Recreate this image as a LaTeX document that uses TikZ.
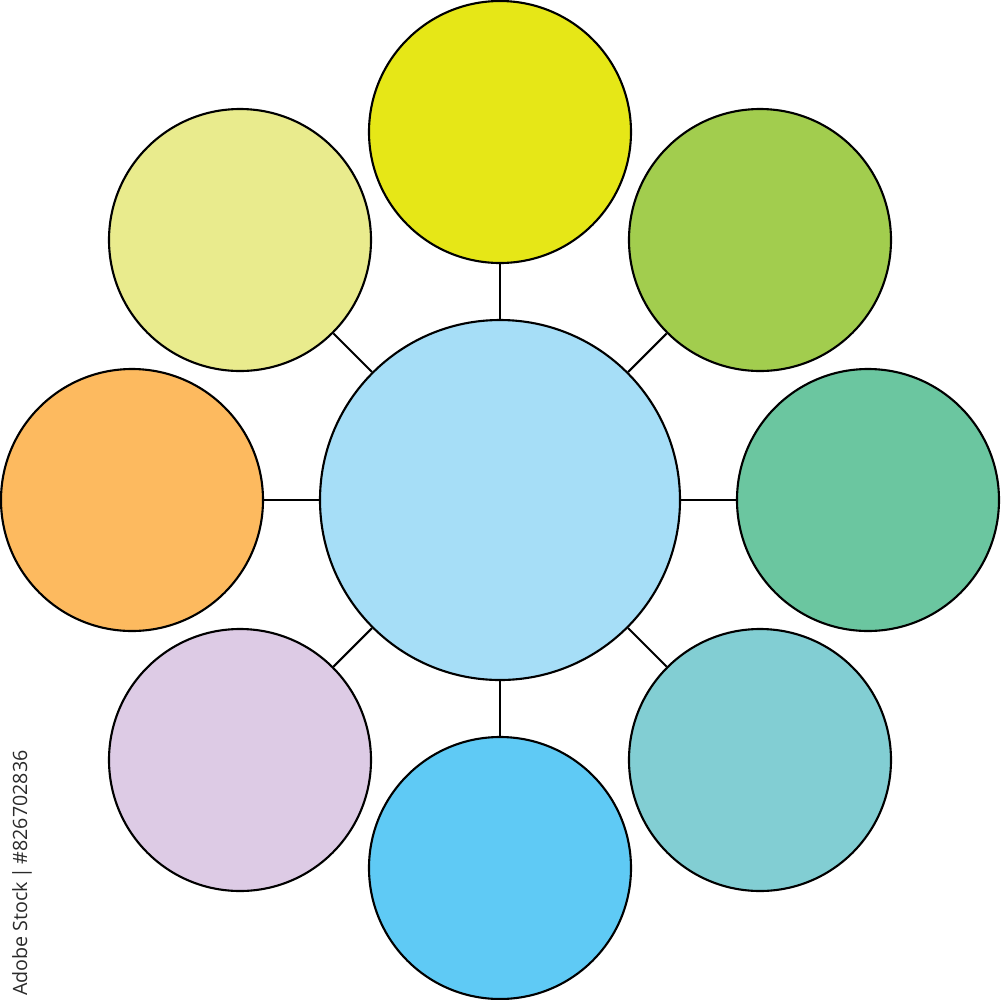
\documentclass[tikz,border=0pt]{standalone}
\usepackage{fontspec}
\newfontfamily\wmfont{Open Sans}
\definecolor{cCenter}{HTML}{A6DEF7}
\definecolor{cTop}{HTML}{E6E717}
\definecolor{cTR}{HTML}{A2CD4E}
\definecolor{cR}{HTML}{6BC6A0}
\definecolor{cBR}{HTML}{82CED3}
\definecolor{cB}{HTML}{5FCAF5}
\definecolor{cBL}{HTML}{DDCBE5}
\definecolor{cL}{HTML}{FDBA5F}
\definecolor{cTL}{HTML}{E9EB8D}
\definecolor{wmgray}{HTML}{2A2A2A}
\tikzset{
  bubble/.style={circle, draw=black, line width=0.6pt, minimum size=26.2mm, inner sep=0pt},
  hub/.style={circle, draw=black, line width=0.6pt, minimum size=36mm, inner sep=0pt, fill=cCenter},
  link/.style={draw=black, line width=0.6pt},
  wm/.style={font=\wmfont\fontsize{5.6pt}{6.5pt}\selectfont, text=wmgray, rotate=90, inner sep=0pt}
}
\begin{document}
\begin{tikzpicture}[x=0.1mm,y=-0.1mm]
\useasboundingbox (0,0) rectangle (1000,1000);
\node[hub] (c) at (500,500) {};
\node[bubble, fill=cTop] (t) at (500,132) {};
\node[bubble, fill=cTR] (tr) at (760,240) {};
\node[bubble, fill=cR] (r) at (868,500) {};
\node[bubble, fill=cBR] (br) at (760,760) {};
\node[bubble, fill=cB] (b) at (500,868) {};
\node[bubble, fill=cBL] (bl) at (240,760) {};
\node[bubble, fill=cL] (l) at (132,500) {};
\node[bubble, fill=cTL] (tl) at (240,240) {};
\foreach \n in {t,tr,r,br,b,bl,l,tl} {
  \draw[link] (c) -- (\n);
}
\node[wm] (mark) at (22,873) {Adobe Stock\,|\,\#826702836};
\end{tikzpicture}
\end{document}
